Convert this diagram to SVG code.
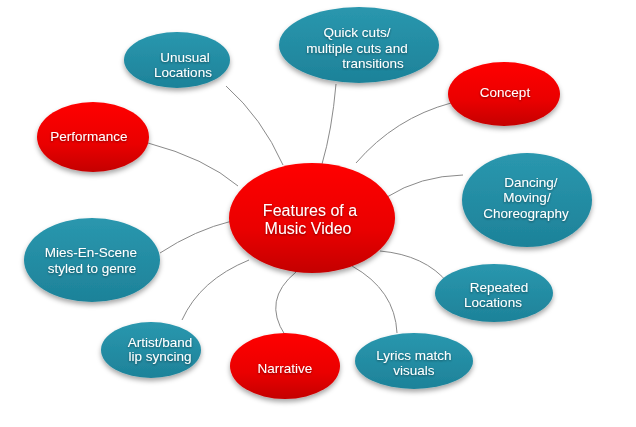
<svg xmlns="http://www.w3.org/2000/svg" width="636" height="427" viewBox="0 0 636 427">
<style>
.conn{fill:none;stroke:#8a8a8a;stroke-width:1}
.t{font-family:"Liberation Sans",Arial,sans-serif;font-size:13.5px;fill:#fff;text-anchor:middle;filter:url(#ts)}
.big{font-size:16px}
.teal{fill:url(#gt);filter:url(#sh)}
.red{fill:url(#gr);filter:url(#sh)}
</style>
<defs>
<linearGradient id="gt" x1="0" y1="0" x2="0" y2="1">
<stop offset="0" stop-color="#2a97ae"/>
<stop offset="1" stop-color="#1d8299"/>
</linearGradient>
<linearGradient id="gr" x1="0" y1="0" x2="0" y2="1">
<stop offset="0" stop-color="#ff0606"/>
<stop offset="0.6" stop-color="#ea0000"/>
<stop offset="1" stop-color="#c40000"/>
</linearGradient>
<filter id="sh" x="-20%" y="-20%" width="140%" height="150%">
<feDropShadow dx="0" dy="3" stdDeviation="2.5" flood-color="#000" flood-opacity="0.35"/>
</filter>
<filter id="ts" x="-10%" y="-30%" width="120%" height="160%">
<feDropShadow dx="0" dy="1" stdDeviation="0.8" flood-color="#000" flood-opacity="0.45"/>
</filter>
</defs>
<rect width="636" height="427" fill="#fff"/>
<g id="connectors">
<path class="conn" d="M148,143 Q205,158 238,186"/>
<path class="conn" d="M226,86 Q262,118 283,165"/>
<path class="conn" d="M336,84 Q332,130 322,164"/>
<path class="conn" d="M451,103 Q395,118 356,163"/>
<path class="conn" d="M463,175 Q420,176 387,197"/>
<path class="conn" d="M380,251 Q425,255 448,283"/>
<path class="conn" d="M352,266 Q395,290 397,333"/>
<path class="conn" d="M296,272 Q262,300 285,335"/>
<path class="conn" d="M182,320 Q200,280 249,260"/>
<path class="conn" d="M160,253 Q195,230 232,221"/>
</g>
<g id="center">
<ellipse class="red" cx="312" cy="218" rx="83" ry="55"/>
<text class="t big" x="310" y="216">Features of a</text>
<text class="t big" x="308" y="234">Music Video</text>
</g>
<g id="quickcuts">
<ellipse class="teal" cx="359" cy="45" rx="80" ry="38"/>
<text class="t" x="357" y="37">Quick cuts/</text>
<text class="t" x="357" y="53">multiple cuts and</text>
<text class="t" x="373" y="68">transitions</text>
</g>
<g id="unusual">
<ellipse class="teal" cx="177" cy="60" rx="53" ry="28"/>
<text class="t" x="185" y="62">Unusual</text>
<text class="t" x="183" y="77">Locations</text>
</g>
<g id="concept">
<ellipse class="red" cx="504" cy="94" rx="56" ry="32"/>
<text class="t" x="505" y="97">Concept</text>
</g>
<g id="performance">
<ellipse class="red" cx="93" cy="137" rx="56" ry="35"/>
<text class="t" x="89" y="141">Performance</text>
</g>
<g id="dancing">
<ellipse class="teal" cx="527" cy="200" rx="65" ry="47"/>
<text class="t" x="531" y="187">Dancing/</text>
<text class="t" x="527" y="202">Moving/</text>
<text class="t" x="526" y="218">Choreography</text>
</g>
<g id="mies">
<ellipse class="teal" cx="92" cy="260" rx="68" ry="42"/>
<text class="t" x="91" y="257">Mies-En-Scene</text>
<text class="t" x="92" y="273">styled to genre</text>
</g>
<g id="repeated">
<ellipse class="teal" cx="494" cy="293" rx="59" ry="29"/>
<text class="t" x="499" y="292">Repeated</text>
<text class="t" x="493" y="307">Locations</text>
</g>
<g id="artist">
<ellipse class="teal" cx="151" cy="350" rx="50" ry="28"/>
<text class="t" x="160" y="347">Artist/band</text>
<text class="t" x="160" y="361">lip syncing</text>
</g>
<g id="narrative">
<ellipse class="red" cx="285" cy="366" rx="55" ry="33"/>
<text class="t" x="285" y="373">Narrative</text>
</g>
<g id="lyrics">
<ellipse class="teal" cx="414" cy="361" rx="59" ry="28"/>
<text class="t" x="414" y="360">Lyrics match</text>
<text class="t" x="414" y="375">visuals</text>
</g>
</svg>
